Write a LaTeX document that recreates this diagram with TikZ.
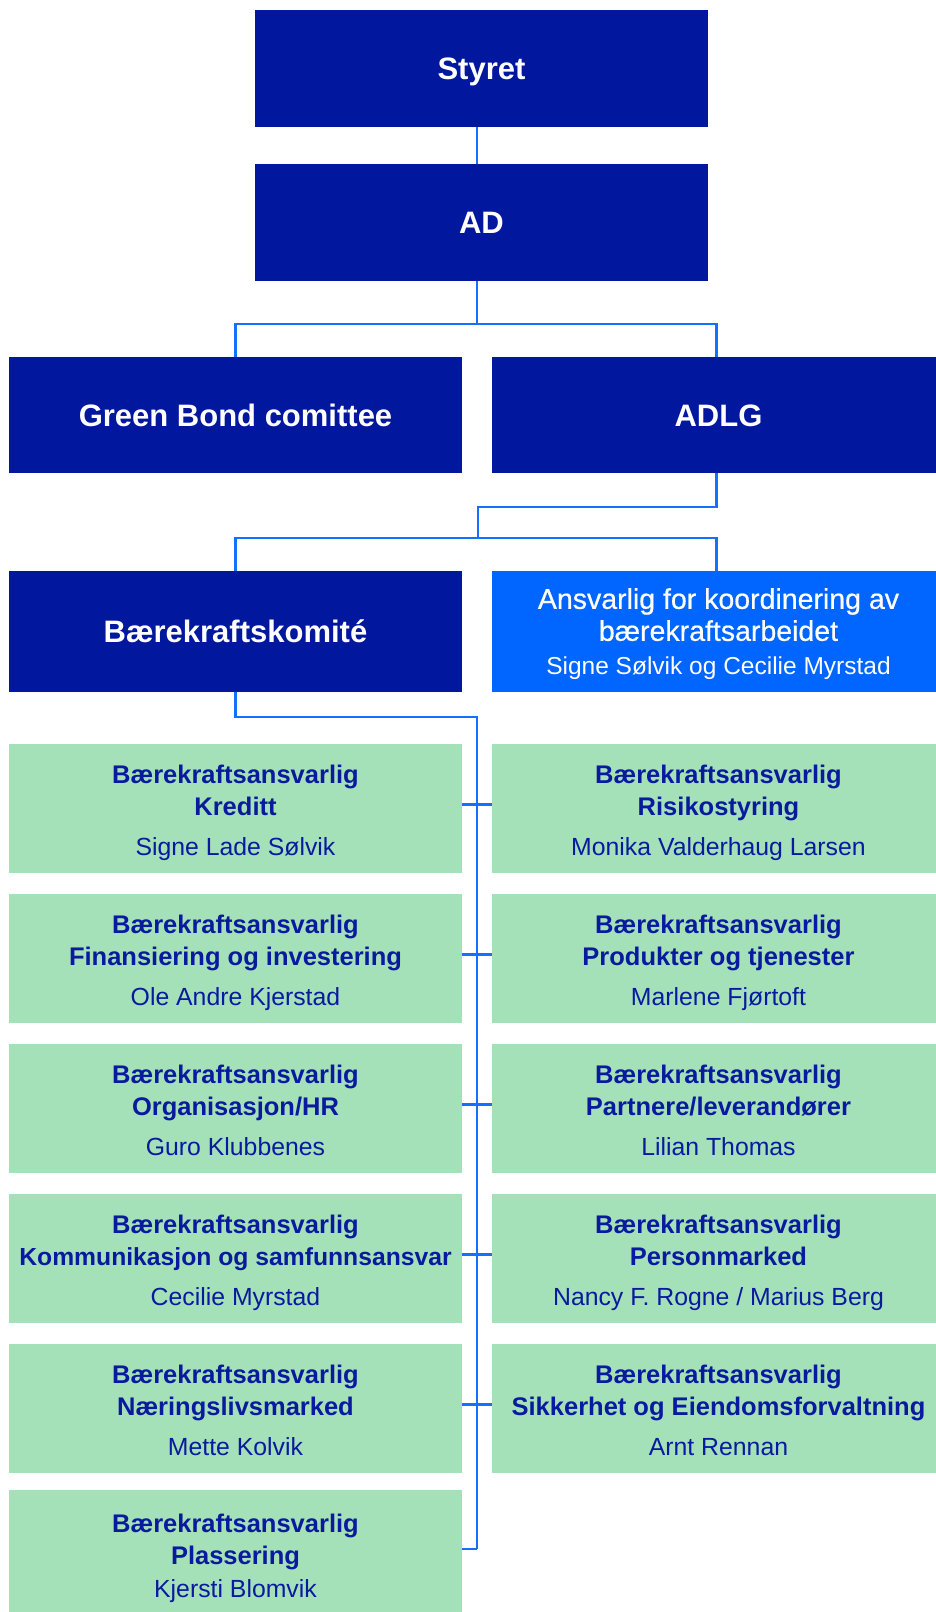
\documentclass[tikz,border=0pt]{standalone}
\usepackage{fontspec}
\setmainfont{Liberation Sans}
\newfontfamily\medfont[FakeBold=0.6]{Liberation Sans}
\definecolor{navy}{HTML}{00179E}
\definecolor{brightblue}{HTML}{0066FF}
\definecolor{linkblue}{HTML}{1470FF}
\definecolor{mint}{HTML}{A4E1B9}
\definecolor{navytext}{HTML}{0A1A9E}
\newcommand{\nmtext}[1]{{\fontsize{24.8}{32}\selectfont\mdseries #1}}
\newcommand{\tstrut}{\rule{0pt}{22.7pt}}
\tikzset{
  darkbox/.style={fill=navy, text=white, inner sep=0pt, minimum width=453pt, minimum height=117pt,
    font=\fontsize{31}{37}\selectfont\bfseries, align=center, text height=22.3pt, text depth=0pt},
  bluebox/.style={fill=brightblue, text=white, inner sep=0pt, minimum width=453pt, minimum height=121pt,
    font=\fontsize{28.5}{32}\selectfont\medfont, align=center, text depth=0pt},
  greenbox/.style={fill=mint, text=navytext, inner sep=0pt, minimum width=453pt, minimum height=128.5pt,
    font=\fontsize{25.5}{32}\selectfont\bfseries, align=center, text depth=0pt},
  link/.style={draw=linkblue, line width=2.7pt}
}
\begin{document}
\begin{tikzpicture}[x=1pt,y=-1pt]
\useasboundingbox (0,0) rectangle (936,1612);
\begin{scope}
\clip (0,0) rectangle (936,1612);
% top level
\node[darkbox] (styret) at (481.5,68.5) {Styret};
\node[darkbox] (ad) at (481.5,222.5) {AD};
\node[darkbox, minimum height=116pt] (gb) at (235.5,415) {Green Bond comittee};
\node[darkbox, minimum height=116pt] (adlg) at (718.5,415) {ADLG};
\node[darkbox, minimum height=121pt] (komite) at (235.5,631.5) {Bærekraftskomité};
\node[bluebox] (ansv) at (718.5,631.5) {Ansvarlig for koordinering av\\bærekraftsarbeidet\\[2pt]{\fontsize{24.5}{32}\selectfont\rmfamily Signe Sølvik og Cecilie Myrstad}};
% green rows
\node[greenbox] (l1) at (235.5,808.25) {\tstrut Bærekraftsansvarlig\\Kreditt\\[8pt]\nmtext{Signe Lade Sølvik}};
\node[greenbox] (r1) at (718.5,808.25) {\tstrut Bærekraftsansvarlig\\Risikostyring\\[8pt]\nmtext{Monika Valderhaug Larsen}};
\node[greenbox] (l2) at (235.5,958.25) {\tstrut Bærekraftsansvarlig\\Finansiering og investering\\[8pt]\nmtext{Ole Andre Kjerstad}};
\node[greenbox] (r2) at (718.5,958.25) {\tstrut Bærekraftsansvarlig\\Produkter og tjenester\\[8pt]\nmtext{Marlene Fjørtoft}};
\node[greenbox] (l3) at (235.5,1108.25) {\tstrut Bærekraftsansvarlig\\Organisasjon/HR\\[8pt]\nmtext{Guro Klubbenes}};
\node[greenbox] (r3) at (718.5,1108.25) {\tstrut Bærekraftsansvarlig\\Partnere/leverandører\\[8pt]\nmtext{Lilian Thomas}};
\node[greenbox] (l4) at (235.5,1258.25) {\tstrut Bærekraftsansvarlig\\{\fontsize{24.7}{32}\selectfont Kommunikasjon og samfunnsansvar}\\[8pt]\nmtext{Cecilie Myrstad}};
\node[greenbox] (r4) at (718.5,1258.25) {\tstrut Bærekraftsansvarlig\\Personmarked\\[8pt]\nmtext{Nancy F. Rogne / Marius Berg}};
\node[greenbox] (l5) at (235.5,1408.25) {\tstrut Bærekraftsansvarlig\\Næringslivsmarked\\[8pt]\nmtext{Mette Kolvik}};
\node[greenbox] (r5) at (718.5,1408.25) {\tstrut Bærekraftsansvarlig\\Sikkerhet og Eiendomsforvaltning\\[8pt]\nmtext{Arnt Rennan}};
\node[greenbox, minimum height=122pt] (l6) at (235.5,1551) {\rule{0pt}{27.8pt}Bærekraftsansvarlig\\Plassering\\[1pt]\nmtext{Kjersti Blomvik}};
% helper coordinates
\coordinate (tx) at (477,0);
\coordinate (rx) at (716.5,0);
\coordinate (j0) at (477,324);
\coordinate (j1) at (478,507);
\coordinate (j2) at (478,538);
\coordinate (kj) at (477,717);
\coordinate (tb) at (477,1549);
% connectors
\draw[link] (styret.south -| tx) -- (ad.north -| tx);
\draw[link] (ad.south -| tx) -- (j0);
\draw[link] (gb.north) |- (j0) -| (adlg.north -| rx);
\draw[link] (adlg.south -| rx) |- (j1) -- (j2);
\draw[link] (komite.north) |- (j2) -| (ansv.north -| rx);
\draw[link] (komite.south) |- (kj) -- (tb);
\draw[link] ([yshift=4pt]l1.east) -- ([yshift=4pt]r1.west);
\draw[link] ([yshift=4pt]l2.east) -- ([yshift=4pt]r2.west);
\draw[link] ([yshift=4pt]l3.east) -- ([yshift=4pt]r3.west);
\draw[link] ([yshift=4pt]l4.east) -- ([yshift=4pt]r4.west);
\draw[link] ([yshift=4pt]l5.east) -- ([yshift=4pt]r5.west);
\draw[link] (l6.east |- tb) -- (tb);
\end{scope}
\end{tikzpicture}
\end{document}
